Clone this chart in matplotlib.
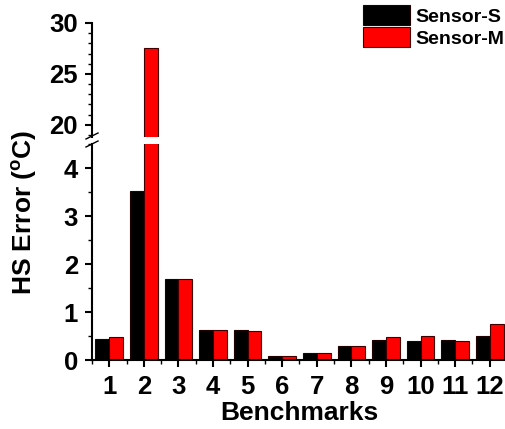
import numpy as np
import matplotlib.pyplot as plt
from matplotlib.ticker import MultipleLocator

plt.rcParams['font.family'] = ['Liberation Sans', 'DejaVu Sans']
plt.rcParams['font.weight'] = 'bold'
plt.rcParams['mathtext.fontset'] = 'custom'
plt.rcParams['mathtext.rm'] = 'Liberation Sans:bold'

benchmarks = ['1', '2', '3', '4', '5', '6', '7', '8', '9', '10', '11', '12']
sensor_s = [0.43, 3.53, 1.68, 0.62, 0.62, 0.09, 0.145, 0.30, 0.42, 0.39, 0.41, 0.51]
sensor_m = [0.47, 27.5, 1.68, 0.62, 0.61, 0.08, 0.14, 0.29, 0.48, 0.50, 0.40, 0.75]

W, H = 506, 429
fig = plt.figure(figsize=(W / 100, H / 100), dpi=100)
left = 92 / W
width = 415 / W
ax_top = fig.add_axes([left, 1 - 137 / H, width, 114 / H])
ax = fig.add_axes([left, 1 - 360 / H, width, 216 / H])

x = np.arange(1, len(benchmarks) + 1)
bw = 0.4
for a in (ax_top, ax):
    a.bar(x - bw / 2, sensor_s, bw, color='black', edgecolor='#200000', linewidth=0.8, label='Sensor-S')
    a.bar(x + bw / 2, sensor_m, bw, color='red', edgecolor='#400000', linewidth=0.8, label='Sensor-M')
    a.set_xlim(0.5, 12.5)
    for s in ('top', 'right'):
        a.spines[s].set_visible(False)
    a.spines['left'].set_linewidth(1.5)
    a.tick_params(axis='y', which='major', direction='out', length=5, width=1.5, labelsize=18.5, pad=5)
    a.tick_params(axis='y', which='minor', direction='out', length=3, width=1)

ax_top.set_ylim(18.8, 30)
ax_top.yaxis.set_major_locator(MultipleLocator(5))
ax_top.yaxis.set_minor_locator(MultipleLocator(1))
ax_top.spines['bottom'].set_visible(False)
ax_top.set_xticks([])

ax.set_ylim(0, 4.5)
ax.yaxis.set_major_locator(MultipleLocator(1))
ax.yaxis.set_minor_locator(MultipleLocator(0.5))
ax.spines['bottom'].set_linewidth(1.5)
ax.set_xticks(x)
ax.set_xticklabels(benchmarks)
ax.xaxis.set_minor_locator(MultipleLocator(0.5))
ax.tick_params(axis='x', which='major', direction='out', length=5, width=1.5, labelsize=18.5, pad=6)
ax.tick_params(axis='x', which='minor', direction='out', length=3, width=1)
ax.set_xlabel('Benchmarks', fontsize=19, fontweight='bold', labelpad=1)

fig.text(24 / W, 1 - 212 / H, r'HS Error ($^{\rm o}$C)', rotation=90, fontsize=19,
         fontweight='bold', ha='center', va='center')

# break marks
for yy in (136, 144):
    fig.add_artist(plt.Line2D([86 / W, 98 / W], [1 - (yy + 3) / H, 1 - (yy - 3) / H],
                              color='black', linewidth=1))

handles, labels = ax.get_legend_handles_labels()
fig.legend(handles, labels, loc='upper left', bbox_to_anchor=(363 / W, 1 - 5 / H),
           frameon=False, borderpad=0, handlelength=2.4, handleheight=1.2,
           handletextpad=0.3, labelspacing=0.1, borderaxespad=0,
           prop={'weight': 'bold', 'size': 14})

fig.savefig('out.png', dpi=100)
